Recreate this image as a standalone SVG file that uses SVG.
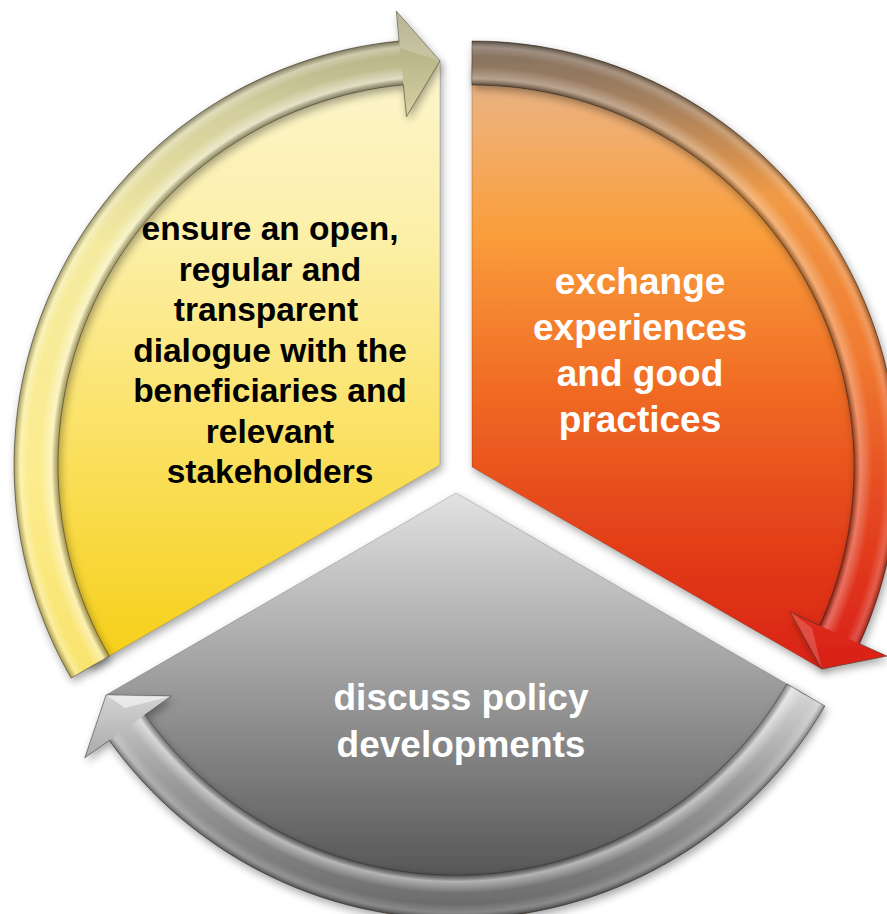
<svg xmlns="http://www.w3.org/2000/svg" width="887" height="914" viewBox="0 0 887 914">
  <defs>
    <filter id="shadow" x="-10%" y="-10%" width="120%" height="120%">
      <feDropShadow dx="2" dy="4" stdDeviation="4" flood-color="#000" flood-opacity="0.35"/>
    </filter>
    <linearGradient id="yIn" gradientUnits="userSpaceOnUse" x1="0" y1="40" x2="0" y2="680">
      <stop offset="0" stop-color="#FCF6D2"/>
      <stop offset="0.3" stop-color="#FCF0AA"/>
      <stop offset="0.6" stop-color="#FBE268"/>
      <stop offset="1" stop-color="#F6CE12"/>
    </linearGradient>
    <linearGradient id="yRim" gradientUnits="userSpaceOnUse" x1="0" y1="10" x2="0" y2="680">
      <stop offset="0" stop-color="#A6A27A"/>
      <stop offset="0.15" stop-color="#D3CE9E"/>
      <stop offset="0.35" stop-color="#F4EBA0"/>
      <stop offset="0.7" stop-color="#FCEC8C"/>
      <stop offset="1" stop-color="#F9E36C"/>
    </linearGradient>
    <linearGradient id="oIn" gradientUnits="userSpaceOnUse" x1="0" y1="40" x2="0" y2="680">
      <stop offset="0" stop-color="#E2B691"/>
      <stop offset="0.15" stop-color="#F1AD6C"/>
      <stop offset="0.3" stop-color="#FA9E3C"/>
      <stop offset="0.55" stop-color="#F06A24"/>
      <stop offset="0.8" stop-color="#E23C18"/>
      <stop offset="1" stop-color="#D82012"/>
    </linearGradient>
    <linearGradient id="oRim" gradientUnits="userSpaceOnUse" x1="0" y1="35" x2="0" y2="680">
      <stop offset="0" stop-color="#7C6E62"/>
      <stop offset="0.1" stop-color="#A4805F"/>
      <stop offset="0.25" stop-color="#F19A45"/>
      <stop offset="0.5" stop-color="#F07A30"/>
      <stop offset="0.75" stop-color="#E44420"/>
      <stop offset="1" stop-color="#D81C18"/>
    </linearGradient>
    <linearGradient id="gIn" gradientUnits="userSpaceOnUse" x1="0" y1="493" x2="0" y2="880">
      <stop offset="0" stop-color="#E2E2E2"/>
      <stop offset="0.4" stop-color="#A9A9A9"/>
      <stop offset="1" stop-color="#555555"/>
    </linearGradient>
    <linearGradient id="gRim" gradientUnits="userSpaceOnUse" x1="0" y1="690" x2="0" y2="915">
      <stop offset="0" stop-color="#D6D6D6"/>
      <stop offset="0.4" stop-color="#9C9C9C"/>
      <stop offset="1" stop-color="#686868"/>
    </linearGradient>
    <radialGradient id="bevY" gradientUnits="userSpaceOnUse" cx="440" cy="465" r="426">
      <stop offset="0.88" stop-color="#000" stop-opacity="0"/>
      <stop offset="0.897" stop-color="#000" stop-opacity="0.35"/>
      <stop offset="0.912" stop-color="#fff" stop-opacity="0.45"/>
      <stop offset="0.94" stop-color="#fff" stop-opacity="0"/>
      <stop offset="0.965" stop-color="#fff" stop-opacity="0"/>
      <stop offset="0.985" stop-color="#fff" stop-opacity="0.3"/>
      <stop offset="1" stop-color="#000" stop-opacity="0.35"/>
    </radialGradient>
    <radialGradient id="bevO" gradientUnits="userSpaceOnUse" cx="472" cy="467" r="426">
      <stop offset="0.88" stop-color="#000" stop-opacity="0"/>
      <stop offset="0.897" stop-color="#000" stop-opacity="0.4"/>
      <stop offset="0.912" stop-color="#fff" stop-opacity="0.3"/>
      <stop offset="0.94" stop-color="#fff" stop-opacity="0"/>
      <stop offset="0.965" stop-color="#fff" stop-opacity="0"/>
      <stop offset="0.985" stop-color="#fff" stop-opacity="0.2"/>
      <stop offset="1" stop-color="#000" stop-opacity="0.35"/>
    </radialGradient>
    <radialGradient id="bevG" gradientUnits="userSpaceOnUse" cx="456" cy="493" r="426">
      <stop offset="0.88" stop-color="#000" stop-opacity="0"/>
      <stop offset="0.897" stop-color="#000" stop-opacity="0.35"/>
      <stop offset="0.912" stop-color="#fff" stop-opacity="0.45"/>
      <stop offset="0.94" stop-color="#fff" stop-opacity="0"/>
      <stop offset="0.965" stop-color="#fff" stop-opacity="0"/>
      <stop offset="0.985" stop-color="#fff" stop-opacity="0.2"/>
      <stop offset="1" stop-color="#000" stop-opacity="0.35"/>
    </radialGradient>
  </defs>
  <style>
    .sector { stroke: #000; stroke-opacity: 0.18; stroke-width: 1; }
    .rim { stroke: #3c3220; stroke-opacity: 0.55; stroke-width: 1; stroke-linejoin: miter; }
    .bevel { stroke: none; }
    .lbl { font-family: "Liberation Sans", Arial, sans-serif; font-weight: bold; text-anchor: middle; }
    .dark { fill: #000; font-size: 33.5px; }
    .light { fill: #fff; font-size: 37px; }
  </style>

  <g id="node-yellow" filter="url(#shadow)">
    <path class="sector" fill="url(#yIn)" d="M440,465 L90.1,667 A404,404 0 0 1 440,61 Z"/>
  </g>
  <g id="node-orange" filter="url(#shadow)">
    <path class="sector" fill="url(#oIn)" d="M472,467 L472,63 A404,404 0 0 1 821.9,669 Z"/>
  </g>
  <g id="node-gray" filter="url(#shadow)">
    <path class="sector" fill="url(#gIn)" d="M456,493 L805.9,695 A404,404 0 0 1 106.1,695 Z"/>
  </g>

  <g id="connectors">
    <g id="arrow-yellow" filter="url(#shadow)">
      <path class="rim" fill="url(#yRim)" d="M109.2,656 L71.1,678 A426,426 0 0 1 399.2,41 L396.3,11.1 L440,61 L406.5,116.6 L403.4,84.8 A382,382 0 0 0 109.2,656 Z"/>
      <path class="bevel" fill="url(#bevY)" d="M109.2,656 L71.1,678 A426,426 0 0 1 399.2,41 L403.4,84.8 A382,382 0 0 0 109.2,656 Z"/>
      <path fill="#fff" fill-opacity="0.2" d="M396.3,11.1 L440,61 L400,48 Z"/>
    </g>
    <g id="arrow-orange" filter="url(#shadow)">
      <path class="rim" fill="url(#oRim)" d="M472,85 L472,41 A426,426 0 0 1 859.6,643.7 L886.9,656.1 L821.9,669 L790.5,612.1 L819.6,625.4 A382,382 0 0 0 472,85 Z"/>
      <path class="bevel" fill="url(#bevO)" d="M472,85 L472,41 A426,426 0 0 1 859.6,643.7 L819.6,625.4 A382,382 0 0 0 472,85 Z"/>
      <path fill="#fff" fill-opacity="0.18" d="M790.5,612.1 L821.9,669 L812,628 Z"/>
    </g>
    <g id="arrow-gray" filter="url(#shadow)">
      <path class="rim" fill="url(#gRim)" d="M786.8,684 L824.9,706 A426,426 0 0 1 109.2,740.4 L84.8,757.8 L106.1,695 L171.1,696.2 L145,714.8 A382,382 0 0 0 786.8,684 Z"/>
      <path class="bevel" fill="url(#bevG)" d="M786.8,684 L824.9,706 A426,426 0 0 1 109.2,740.4 L145,714.8 A382,382 0 0 0 786.8,684 Z"/>
      <path fill="#fff" fill-opacity="0.55" d="M106.1,695 L171.1,696.2 L125,708 Z"/>
    </g>
  </g>

  <g id="labels">
    <text class="lbl dark" x="270" y="240">ensure an open,</text>
    <text class="lbl dark" x="270" y="280.5">regular and</text>
    <text class="lbl dark" x="266" y="321">transparent</text>
    <text class="lbl dark" x="270" y="361.5">dialogue with the</text>
    <text class="lbl dark" x="270" y="402">beneficiaries and</text>
    <text class="lbl dark" x="270" y="442.5">relevant</text>
    <text class="lbl dark" x="270" y="483">stakeholders</text>
    <text class="lbl light" x="640" y="294">exchange</text>
    <text class="lbl light" x="640" y="340">experiences</text>
    <text class="lbl light" x="640" y="386">and good</text>
    <text class="lbl light" x="640" y="432">practices</text>
    <text class="lbl light" x="461" y="710">discuss policy</text>
    <text class="lbl light" x="461" y="757">developments</text>
  </g>
</svg>
